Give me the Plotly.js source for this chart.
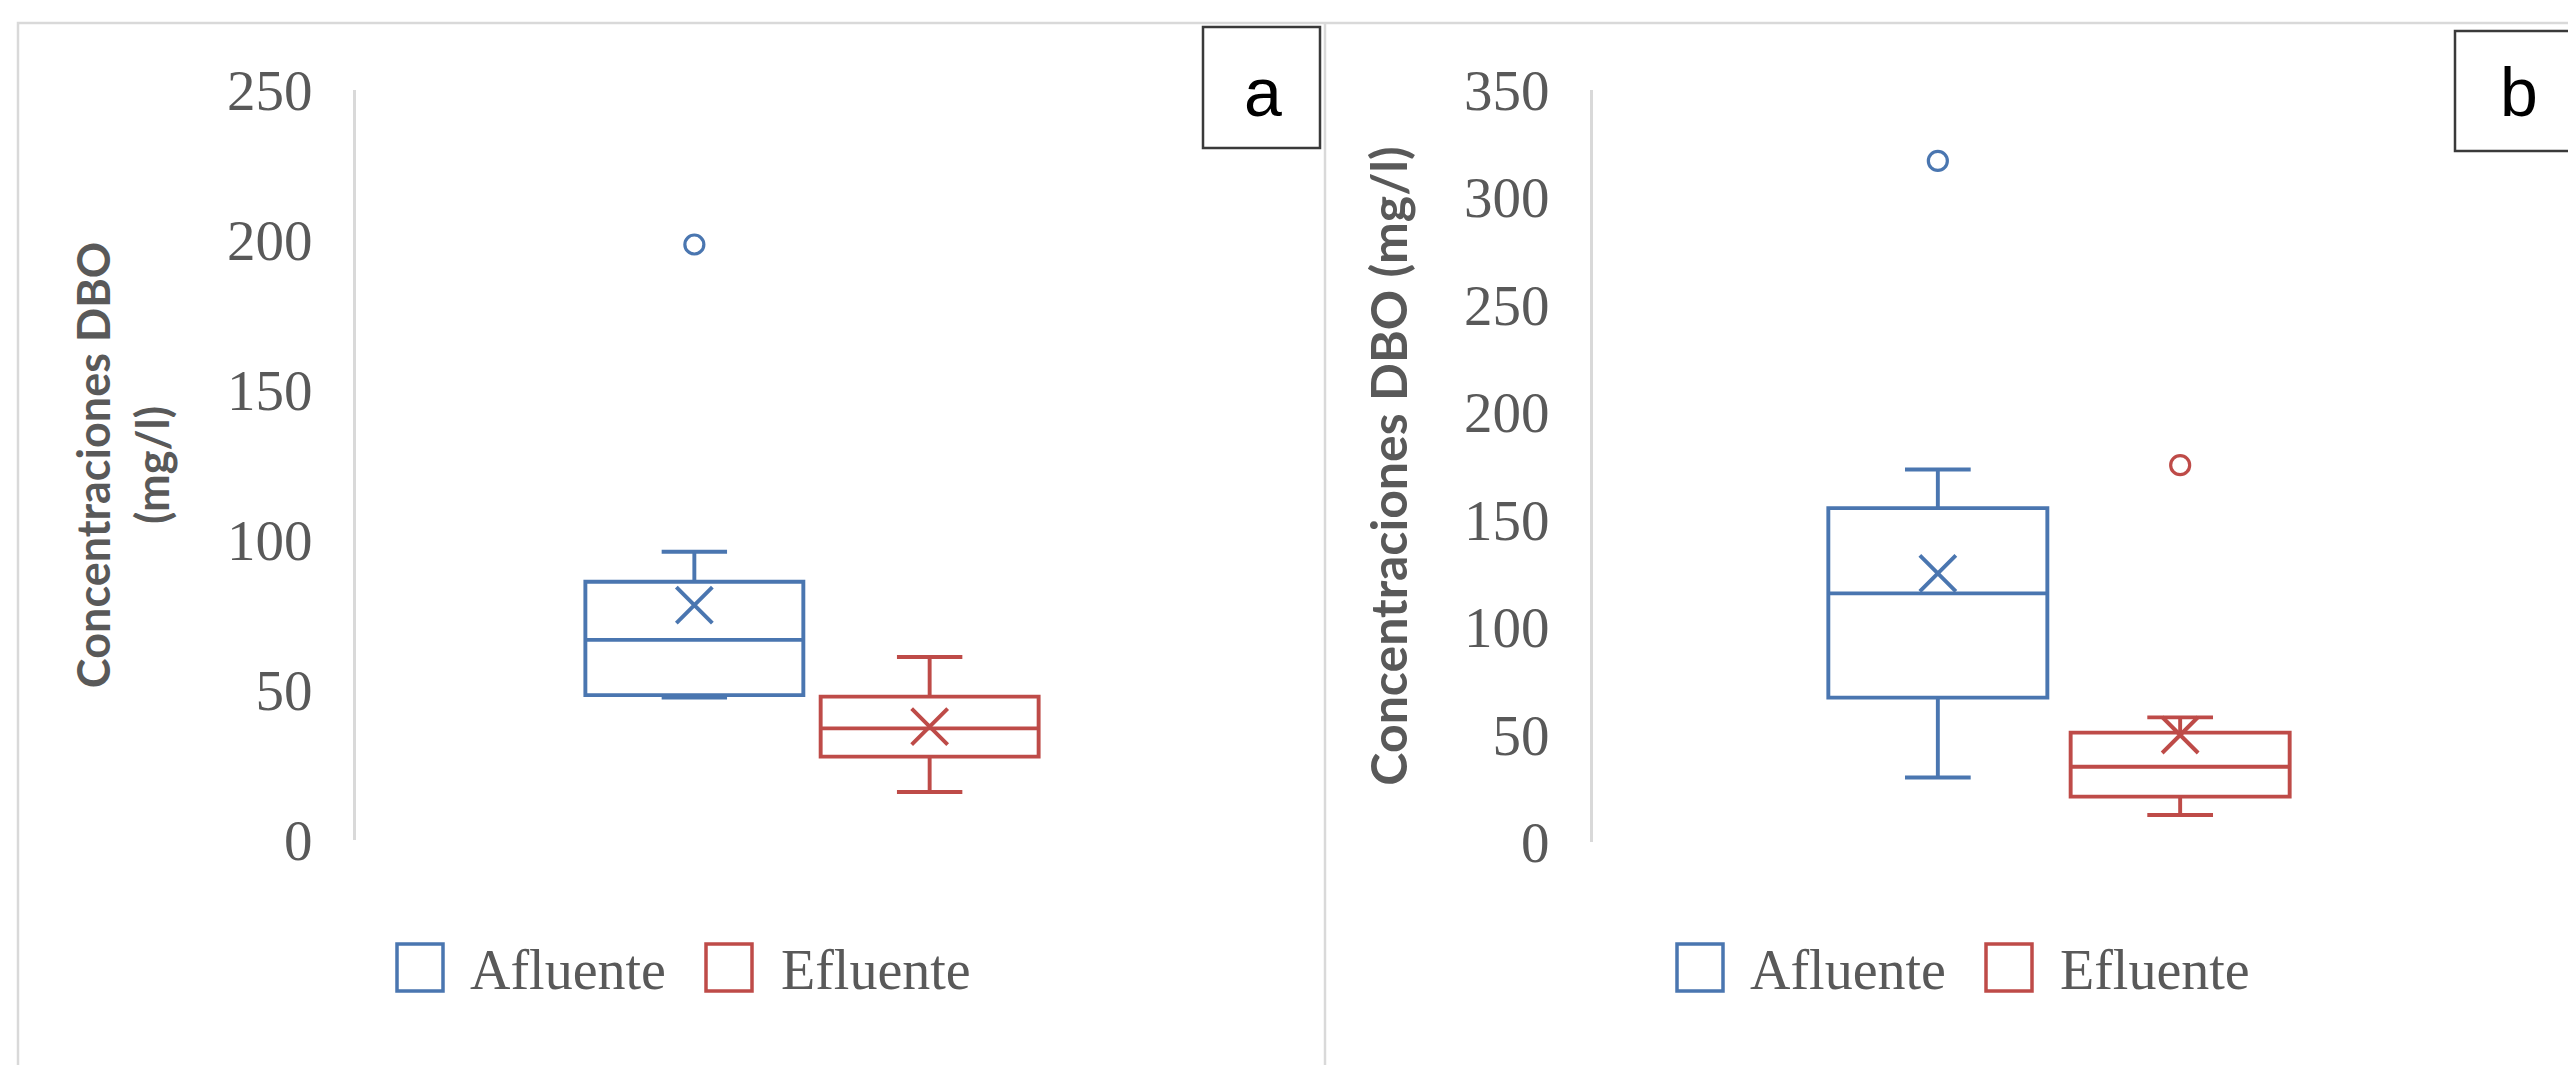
<!DOCTYPE html>
<html>
<head>
<meta charset="utf-8">
<script src="https://cdn.plot.ly/plotly-3.0.1.min.js"></script>
<style>html,body{margin:0;padding:0;background:#fff;overflow:hidden;}</style>
</head>
<body>
<div id="chart" style="width:2568px;height:1065px;"></div>
<script>
// ---------------- DATA ----------------
const seriesNames = ['Afluente', 'Efluente'];
const panelLabels = ['a', 'b'];
const yTitleA = 'Concentraciones DBO<br>(mg/l)';
const yTitleB = 'Concentraciones DBO (mg/l)';
const yTicksA = [0, 50, 100, 150, 200, 250];
const yTicksB = [0, 50, 100, 150, 200, 250, 300, 350];

// Panel a (Afluente, Efluente)
const aLower  = [47.5, 16];
const aQ1     = [48.3, 27.8];
const aMedian = [66.7, 37.2];
const aQ3     = [86.1, 47.8];
const aUpper  = [96.1, 61];
const aMean   = [78.3, 37.8];
const aOutAfluente = [198.5];
const aOutEfluente = [];

// Panel b (Afluente, Efluente)
const bLower  = [30, 12.6];
const bQ1     = [67.2, 21.1];
const bMedian = [115.7, 35];
const bQ3     = [155.4, 50.9];
const bUpper  = [173.4, 58];
const bMean   = [125, 49.8];
const bOutAfluente = [317];
const bOutEfluente = [175.4];

// ---------------- STYLE ----------------
const W = 2568, H = 1065;
const px = x => x / W;
const py = y => 1 - y / H;
const colors = ['#4A76B0', '#BE4B48'];
const textGray = '#595959';
const LW = 3.9;

const panels = [
  {xa: 'x', ya: 'y', offset: 0.129, width: 0.239,
   lower: aLower, q1: aQ1, median: aMedian, q3: aQ3, upper: aUpper, mean: aMean,
   outliers: [aOutAfluente, aOutEfluente]},
  {xa: 'x2', ya: 'y2', offset: 0.130, width: 0.235,
   lower: bLower, q1: bQ1, median: bMedian, q3: bQ3, upper: bUpper, mean: bMean,
   outliers: [bOutAfluente, bOutEfluente]}
];

const traces = [];
panels.forEach(p => {
  seriesNames.forEach((name, i) => {
    const xpos = (i === 0 ? -1 : 1) * p.offset;
    traces.push({
      type: 'box', name: name, xaxis: p.xa, yaxis: p.ya,
      x: [xpos], q1: [p.q1[i]], median: [p.median[i]], q3: [p.q3[i]],
      lowerfence: [p.lower[i]], upperfence: [p.upper[i]],
      width: p.width, whiskerwidth: 0.3, boxpoints: false,
      line: {color: colors[i], width: LW}, fillcolor: 'rgba(255,255,255,0)',
      showlegend: false, hoverinfo: 'skip'
    });
    traces.push({
      type: 'scatter', mode: 'markers', xaxis: p.xa, yaxis: p.ya,
      x: [xpos], y: [p.mean[i]], showlegend: false, hoverinfo: 'skip',
      marker: {symbol: 'x-thin', size: 36, color: colors[i], line: {color: colors[i], width: LW}}
    });
    if (p.outliers[i].length) {
      traces.push({
        type: 'scatter', mode: 'markers', xaxis: p.xa, yaxis: p.ya,
        x: p.outliers[i].map(() => xpos), y: p.outliers[i], showlegend: false, hoverinfo: 'skip',
        marker: {symbol: 'circle-open', size: 19, color: colors[i], line: {color: colors[i], width: 3.2}}
      });
    }
  });
});

const tickFont = {family: 'Liberation Serif', size: 57, color: textGray};

function yAxis(domainTop, domainBottom, ticks, title, titleSize, standoff) {
  return {
    domain: [py(domainBottom), py(domainTop)],
    range: [ticks[0], ticks[ticks.length - 1]],
    tickvals: ticks, ticktext: ticks.map(String),
    showline: true, linecolor: '#D9D9D9', linewidth: 3,
    ticks: '', showgrid: false, zeroline: false,
    tickfont: tickFont, ticklabelstandoff: 29,
    title: {text: title, font: {family: 'Lato', size: titleSize, color: textGray, weight: 'bold'}, standoff: standoff},
    fixedrange: true
  };
}

const shapes = [];
const annotations = [];
// panel frames
shapes.push({type: 'path', xref: 'paper', yref: 'paper',
  path: `M ${px(18)} ${py(1070)} L ${px(18)} ${py(23)} L ${px(2570)} ${py(23)}`,
  line: {color: '#D9D9D9', width: 2.5}});
shapes.push({type: 'line', xref: 'paper', yref: 'paper',
  x0: px(1325), x1: px(1325), y0: py(23), y1: py(1070),
  line: {color: '#D9D9D9', width: 2.5}});
// label boxes
const labelBoxes = [
  {x0: 1203, x1: 1320, y0: 27, y1: 148, cx: 1263, cy: 92},
  {x0: 2455, x1: 2580, y0: 31, y1: 151, cx: 2519, cy: 92}
];
labelBoxes.forEach((b, k) => {
  shapes.push({type: 'rect', xref: 'paper', yref: 'paper',
    x0: px(b.x0), x1: px(b.x1), y0: py(b.y1), y1: py(b.y0),
    line: {color: '#3a3a3a', width: 2.5}, fillcolor: 'rgba(0,0,0,0)'});
  annotations.push({xref: 'paper', yref: 'paper', x: px(b.cx), y: py(b.cy),
    xanchor: 'center', yanchor: 'middle', showarrow: false, text: panelLabels[k],
    font: {family: 'Liberation Sans', size: 68, color: '#000'}});
});
// custom legends (one per panel)
const legendLayouts = [
  {sq: [397, 706], txt: [468, 779]},
  {sq: [1677, 1986], txt: [1748, 2058]}
];
legendLayouts.forEach(L => {
  seriesNames.forEach((name, i) => {
    shapes.push({type: 'rect', xref: 'paper', yref: 'paper',
      x0: px(L.sq[i]), x1: px(L.sq[i] + 46), y0: py(991), y1: py(944),
      line: {color: colors[i], width: 3.5}, fillcolor: 'rgba(255,255,255,0)'});
    annotations.push({xref: 'paper', yref: 'paper', x: px(L.txt[i]), y: py(970),
      xanchor: 'left', yanchor: 'middle', showarrow: false, text: name,
      font: {family: 'Liberation Serif', size: 56, color: textGray}});
  });
});

const layout = {
  width: W, height: H,
  margin: {l: 0, r: 0, t: 0, b: 0},
  paper_bgcolor: '#ffffff', plot_bgcolor: 'rgba(0,0,0,0)',
  showlegend: false, boxmode: 'overlay',
  xaxis: {domain: [px(356), px(1268)], range: [-0.5, 0.5], visible: false, fixedrange: true},
  yaxis: yAxis(90, 840, yTicksA, yTitleA, 45, 44),
  xaxis2: {domain: [px(1593), px(2525)], range: [-0.5, 0.5], visible: false, anchor: 'y2', fixedrange: true},
  yaxis2: Object.assign(yAxis(90, 842, yTicksB, yTitleB, 50, 41), {anchor: 'x2'}),
  shapes: shapes,
  annotations: annotations
};

Plotly.newPlot('chart', traces, layout, {displayModeBar: false, staticPlot: true});
</script>
</body>
</html>
